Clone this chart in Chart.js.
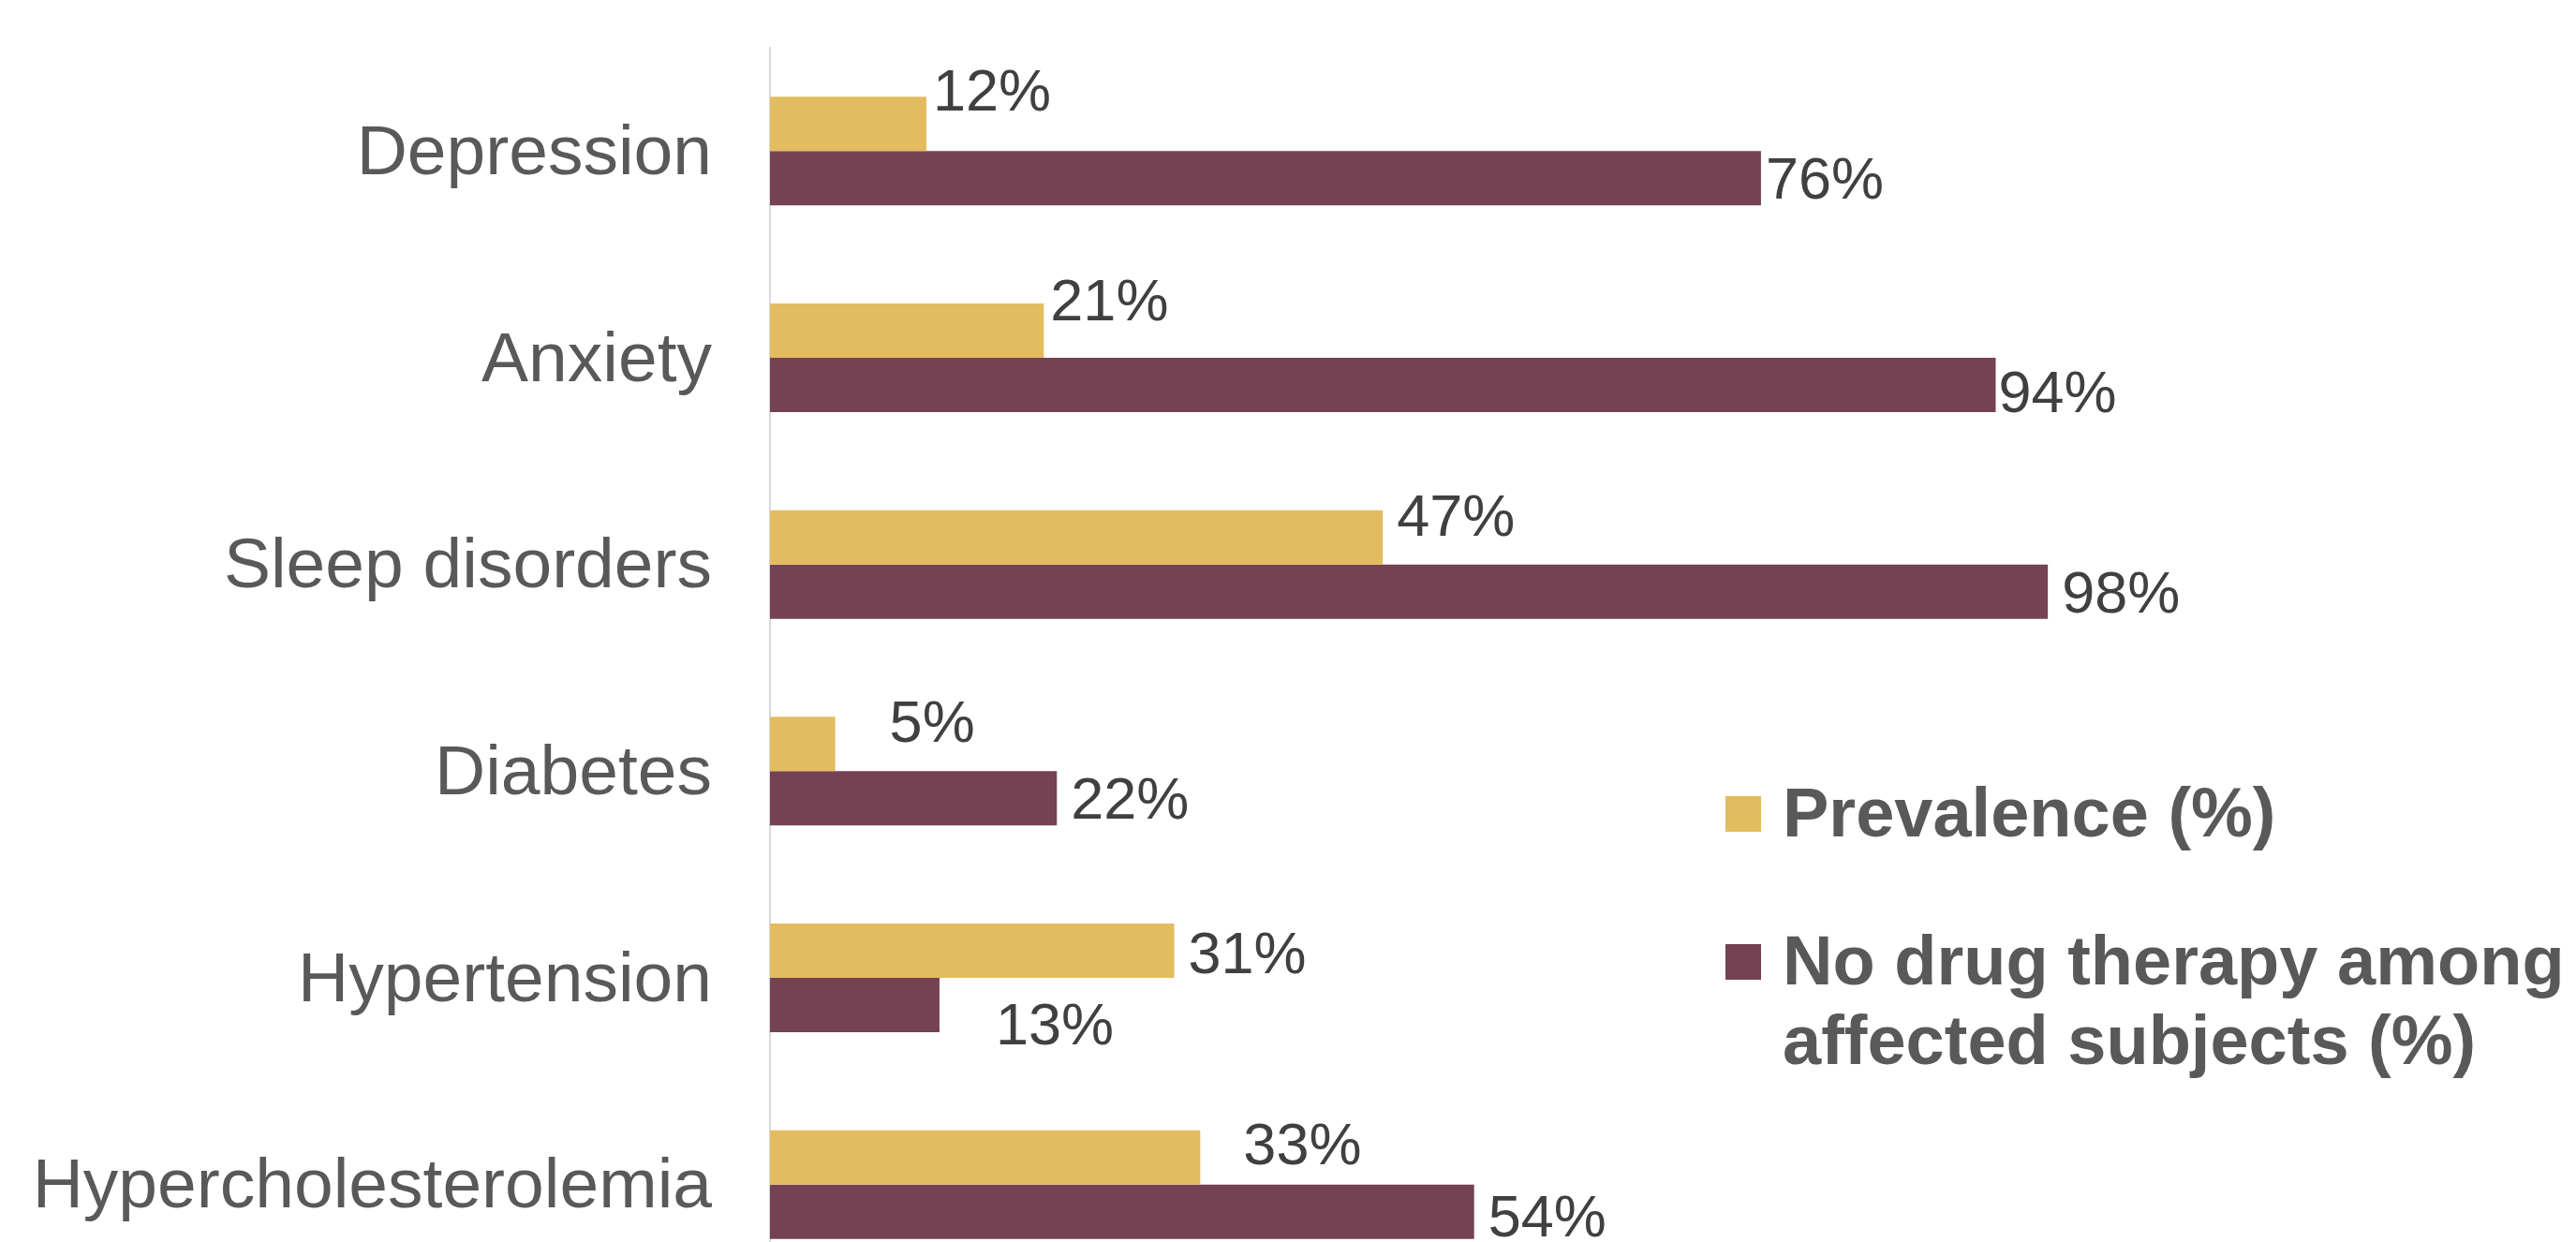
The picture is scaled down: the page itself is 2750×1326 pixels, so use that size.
<!DOCTYPE html>
<html>
<head>
<meta charset="utf-8">
<script src="https://cdn.jsdelivr.net/npm/chart.js@4"></script>
<style>
  html, body { margin: 0; padding: 0; background: #fff; overflow: hidden; }
  #wrap { width: 2750px; height: 1380px; }
</style>
</head>
<body>
<div id="wrap"><canvas id="comorbChart" width="2750" height="1380"></canvas></div>
<script>
const categories = ["Depression", "Anxiety", "Sleep disorders", "Diabetes", "Hypertension", "Hypercholesterolemia"];
const prevalence = [12, 21, 47, 5, 31, 33];
const noDrugTherapy = [76, 94, 98, 22, 13, 54];
const seriesNames = ["Prevalence (%)", "No drug therapy among affected subjects (%)"];

// hand nudges for the value labels, like the moved labels in the original slide
const labelNudges = [
  [[-8, -36], [-8, -33], [0, -24], [43, -24], [0, 2], [31, -15]],
  [[-10, 0], [-12, 7], [0, 0], [0, 0], [45, 20], [0, 4]],
];

const FONT = '"Liberation Sans", Arial, sans-serif';

function wrapText(ctx, text, maxWidth) {
  const words = text.split(" ");
  const lines = [];
  let line = "";
  words.forEach((w) => {
    const test = line ? line + " " + w : w;
    if (ctx.measureText(test).width > maxWidth && line) {
      lines.push(line);
      line = w;
    } else {
      line = test;
    }
  });
  lines.push(line);
  return lines;
}

const valueLabels = {
  id: "valueLabels",
  afterDatasetsDraw(chart) {
    const ctx = chart.ctx;
    ctx.save();
    ctx.font = "63px " + FONT;
    ctx.fillStyle = "#404040";
    ctx.textAlign = "left";
    ctx.textBaseline = "alphabetic";
    chart.data.datasets.forEach((ds, i) => {
      chart.getDatasetMeta(i).data.forEach((bar, j) => {
        const n = labelNudges[i][j];
        ctx.fillText(ds.data[j] + "%", bar.x + 15 + n[0], bar.y + n[1] + 22);
      });
    });
    ctx.restore();
  },
};

const sideLegend = {
  id: "sideLegend",
  afterDraw(chart) {
    const ctx = chart.ctx;
    ctx.save();
    ctx.font = "bold 74px " + FONT;
    ctx.textAlign = "left";
    ctx.textBaseline = "alphabetic";
    const rows = [867, 1025];
    chart.data.datasets.forEach((ds, i) => {
      const lines = wrapText(ctx, ds.label, 850);
      ctx.fillStyle = ds.backgroundColor;
      ctx.fillRect(1842, rows[i] - 17, 38, 38);
      ctx.fillStyle = "#595959";
      lines.forEach((line, k) => {
        ctx.fillText(line, 1903, rows[i] + 26 + k * 85);
      });
    });
    ctx.restore();
  },
};

const ctx = document.getElementById("comorbChart").getContext("2d");
const comorbChart = new Chart(ctx, {
  type: "bar",
  data: {
    labels: categories,
    datasets: [
      {
        label: seriesNames[0],
        data: prevalence,
        backgroundColor: "#E3BC60",
        borderWidth: 0,
        barPercentage: 1,
        categoryPercentage: 0.526,
      },
      {
        label: seriesNames[1],
        data: noDrugTherapy,
        backgroundColor: "#754253",
        borderWidth: 0,
        barPercentage: 1,
        categoryPercentage: 0.526,
      },
    ],
  },
  options: {
    indexAxis: "y",
    responsive: false,
    animation: false,
    layout: {
      padding: { top: 51, bottom: 5, left: 0, right: 536 },
    },
    scales: {
      x: {
        display: false,
        min: 0,
        max: 100,
      },
      y: {
        afterFit: function (scale) {
          scale.width = 822;
          // labels may run past the plot edges, the last row is cut off in the original too
          scale.paddingTop = 0;
          scale.paddingBottom = 0;
        },
        grid: {
          display: false,
          drawTicks: false,
        },
        border: {
          display: true,
          color: "#d9d9d9",
          width: 2,
        },
        ticks: {
          color: "#595959",
          padding: 62,
          labelOffset: 4,
          font: { family: FONT, size: 75 },
        },
      },
    },
    plugins: {
      legend: { display: false },
      tooltip: { enabled: false },
    },
  },
  plugins: [valueLabels, sideLegend],
});
</script>
</body>
</html>
